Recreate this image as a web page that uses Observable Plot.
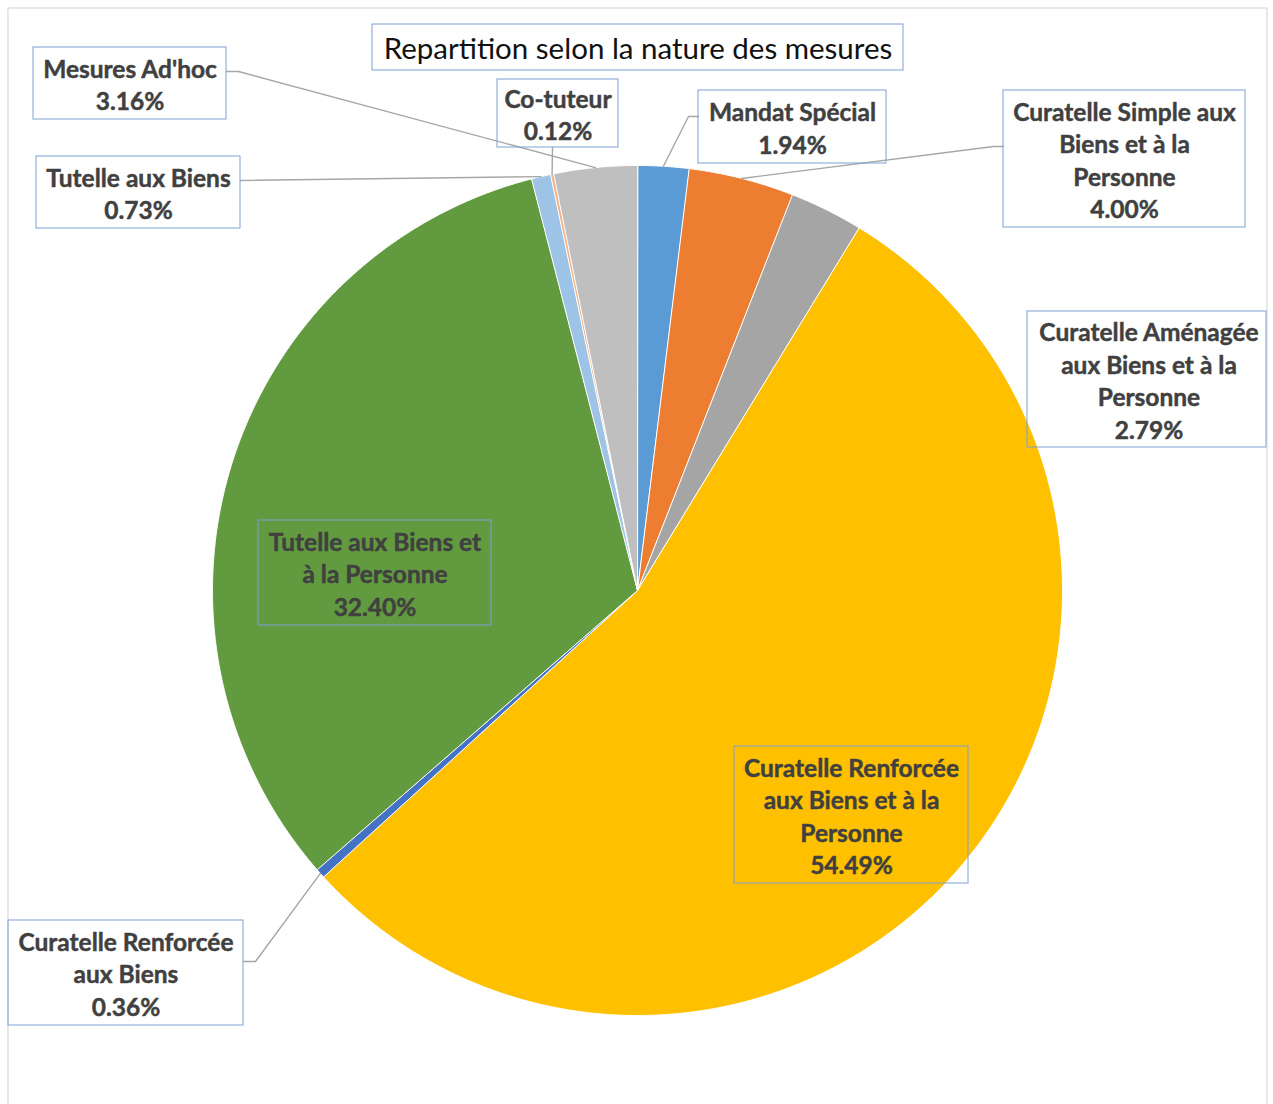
<!DOCTYPE html>
<html><head><meta charset="utf-8">
<script src="https://cdn.jsdelivr.net/npm/d3@7"></script>
<script src="https://cdn.jsdelivr.net/npm/@observablehq/plot@0.6"></script>
<style>body{margin:0;background:#fff;}</style>
</head><body><div id="chart"></div>
<script>
// ---- data ----
const title = "Repartition selon la nature des mesures";
const categories = [
  "Mandat Spécial",
  "Curatelle Simple aux Biens et à la Personne",
  "Curatelle Aménagée aux Biens et à la Personne",
  "Curatelle Renforcée aux Biens et à la Personne",
  "Curatelle Renforcée aux Biens",
  "Tutelle aux Biens et à la Personne",
  "Tutelle aux Biens",
  "Co-tuteur",
  "Mesures Ad'hoc"
];
const values = [1.94, 4.00, 2.79, 54.49, 0.36, 32.40, 0.73, 0.12, 3.16];
const colors = ["#5B9BD5", "#ED7D31", "#A5A5A5", "#FFC000", "#4472C4", "#629A3F", "#9DC3E6", "#F4B183", "#BFBFBF"];
const labelLines = [
  ["Mandat Spécial"],
  ["Curatelle Simple aux", "Biens et à la", "Personne"],
  ["Curatelle Aménagée", "aux Biens et à la", "Personne"],
  ["Curatelle Renforcée", "aux Biens et à la", "Personne"],
  ["Curatelle Renforcée", "aux Biens"],
  ["Tutelle aux Biens et", "à la Personne"],
  ["Tutelle aux Biens"],
  ["Co-tuteur"],
  ["Mesures Ad'hoc"]
];

// ---- layout (pixels) ----
const W = 1273, H = 1104, CX = 637, CY = 590, R = 425;
const frameBox = {x1: 8, y1: 8, x2: 1267, y2: 1112};
const titleBox = {x1: 372, y1: 24, x2: 903, y2: 70};
const boxes = [
  {x1: 698, y1: 90, x2: 886, y2: 163, via: [[688, 116], [698, 116]]},
  {x1: 1003, y1: 90, x2: 1245, y2: 227, via: [[993, 146], [1003, 146]]},
  {x1: 1027, y1: 311, x2: 1266, y2: 447, via: null},
  {x1: 734, y1: 746, x2: 968, y2: 883, via: null},
  {x1: 8, y1: 920, x2: 243, y2: 1025, via: [[255, 961], [243, 961]]},
  {x1: 258, y1: 520, x2: 491, y2: 625, via: null},
  {x1: 36, y1: 156, x2: 240, y2: 228, via: [[240, 180]]},
  {x1: 497, y1: 79, x2: 618, y2: 147, via: [[552, 147]]},
  {x1: 33, y1: 47, x2: 226, y2: 119, via: [[238, 71], [226, 71]]}
];

// ---- geometry ----
const total = d3.sum(values);
let acc = 0;
const slices = values.map((v, i) => {
  const a0 = acc / total * 2 * Math.PI; acc += v;
  const a1 = acc / total * 2 * Math.PI;
  return {i, a0, a1, mid: (a0 + a1) / 2};
});
const pt = a => [CX + R * Math.sin(a), CY - R * Math.cos(a)];
const poly = slices.flatMap(s => {
  const cat = categories[s.i];
  const n = Math.max(2, Math.ceil((s.a1 - s.a0) / 0.004));
  const pts = [{cat, x: CX, y: CY}];
  for (let k = 0; k <= n; k++) {
    const [x, y] = pt(s.a0 + (s.a1 - s.a0) * k / n);
    pts.push({cat, x, y});
  }
  return pts;
});
const leaders = slices.flatMap(s => {
  const b = boxes[s.i];
  if (!b.via) return [];
  const cat = categories[s.i];
  const [ex, ey] = pt(s.mid);
  return [{cat, x: ex, y: ey}, ...b.via.map(([x, y]) => ({cat, x, y}))];
});
const labels = categories.map((c, i) => ({
  cat: c,
  x: (boxes[i].x1 + boxes[i].x2) / 2 + (i === 2 ? 2 : 0),
  y: (boxes[i].y1 + boxes[i].y2) / 2,
  text: [...labelLines[i], values[i].toFixed(2) + "%"].join("\n")
}));

const chart = Plot.plot({
  width: W, height: H, margin: 0,
  x: {domain: [0, W], range: [0, W], axis: null},
  y: {domain: [0, H], range: [0, H], axis: null},
  color: {domain: categories, range: colors},
  style: {fontFamily: "Lato, sans-serif", background: "#fff", overflow: "hidden"},
  marks: [
    Plot.rect([frameBox], {x1: "x1", y1: "y1", x2: "x2", y2: "y2", fill: "none", stroke: "#D9D9D9", strokeWidth: 1.2}),
    Plot.line(poly, {x: "x", y: "y", z: "cat", fill: "cat", stroke: "white", strokeWidth: 1, curve: "linear-closed"}),
    Plot.line(leaders, {x: "x", y: "y", z: "cat", stroke: "#A6A6A6", strokeWidth: 1.4}),
    Plot.rect(boxes, {x1: "x1", y1: "y1", x2: "x2", y2: "y2", fill: "none", stroke: "#7FA0D4", strokeWidth: 1}),
    Plot.text(labels, {x: "x", y: "y", text: "text", fontSize: 24.5, fontWeight: "bold", fill: "#404040", stroke: "#404040", strokeWidth: 0.45, lineHeight: 1.327}),
    Plot.rect([titleBox], {x1: "x1", y1: "y1", x2: "x2", y2: "y2", fill: "white", stroke: "#7FA0D4", strokeWidth: 1}),
    Plot.text([title], {x: (titleBox.x1 + titleBox.x2) / 2, y: (titleBox.y1 + titleBox.y2) / 2 + 2, text: d => d, fontSize: 29.5, fill: "#111"})
  ]
});
document.getElementById("chart").append(chart);
</script>
</body></html>
